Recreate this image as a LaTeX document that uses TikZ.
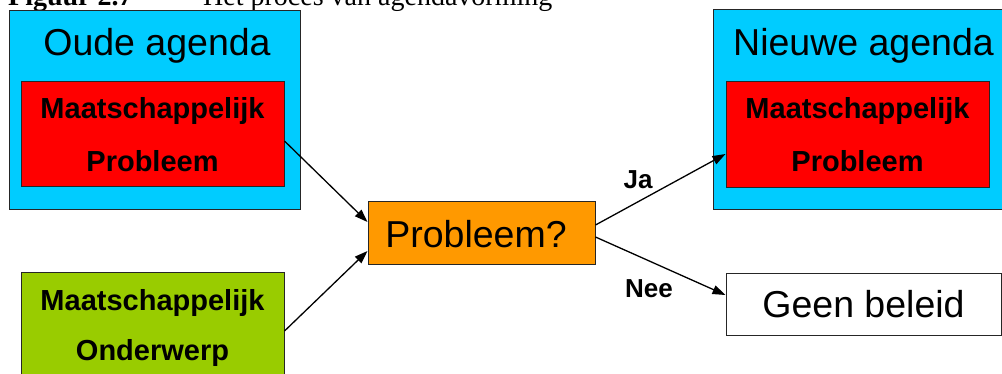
\documentclass[tikz,border=0pt]{standalone}
\usepackage{fontspec}
\setmainfont{Liberation Sans}
\newfontfamily\capfont{Liberation Serif}
\usetikzlibrary{arrows.meta}
\definecolor{agcyan}{HTML}{00CCFF}
\definecolor{agred}{HTML}{FF0000}
\definecolor{aggreen}{HTML}{99CC00}
\definecolor{agorange}{HTML}{FF9900}
\tikzset{
  box/.style={draw=black!85, line width=1pt, inner sep=0pt, minimum width=#1},
  bigtxt/.style={anchor=base, inner sep=0pt, font=\fontsize{37.5}{44}\selectfont},
  boldtxt/.style={anchor=base, inner sep=0pt, font=\bfseries\fontsize{29}{34}\selectfont},
  lbltxt/.style={anchor=base, inner sep=0pt, font=\bfseries\fontsize{26}{30}\selectfont},
  captxt/.style={anchor=base west, inner sep=0pt, font=\capfont\fontsize{28}{30}\selectfont},
  conn/.style={line width=1.3pt, -{Triangle[length=13pt,width=9pt]}}
}
\begin{document}
\begin{tikzpicture}[x=1pt,y=-1pt]
\useasboundingbox (0,0) rectangle (1002,373);
\clip (0,0) rectangle (1002,373);
\fill[white] (0,0) rectangle (1002,373);
% caption (cut off at top)
\node[captxt, font=\capfont\bfseries\fontsize{28}{30}\selectfont] (capA) at (8,5) {Figuur 2.7};
\node[captxt] (capB) at (203,5) {Het proces van agendavorming};
% boxes
\node[box=291pt, minimum height=199pt, fill=agcyan] (oude) at (154.5,109.5) {};
\node[box=263pt, minimum height=105pt, fill=agred] (redL) at (152.5,134) {};
\node[box=263pt, minimum height=123pt, fill=aggreen] (green) at (152.5,333.5) {};
\node[box=227pt, minimum height=63pt, fill=agorange] (prob) at (481.5,232.5) {};
\node[box=299pt, minimum height=200pt, fill=agcyan] (nieuw) at (862.5,109) {};
\node[box=263pt, minimum height=106pt, fill=agred] (redR) at (857.5,134) {};
\node[box=275pt, minimum height=62pt, fill=white] (geen) at (863.5,304) {};
% texts
\node[bigtxt] (tOude) at (157,55) {Oude agenda};
\node[boldtxt] (tL1) at (152.5,118) {Maatschappelijk};
\node[boldtxt] (tL2) at (152.5,171) {Probleem};
\node[boldtxt] (tG1) at (152.5,310) {Maatschappelijk};
\node[boldtxt] (tG2) at (152.5,360) {Onderwerp};
\node[bigtxt] (tProb) at (476,247) {Probleem?};
\node[bigtxt] (tNieuw) at (863.5,55) {Nieuwe agenda};
\node[boldtxt] (tR1) at (857.5,118) {Maatschappelijk};
\node[boldtxt] (tR2) at (857.5,171) {Probleem};
\node[bigtxt] (tGeen) at (863.5,317) {Geen beleid};
\node[lbltxt] (ja) at (638,188) {Ja};
\node[lbltxt] (nee) at (649,297) {Nee};
% connectors
\draw[conn] ([yshift=-7pt]redL.east) -- ([yshift=10.5pt]prob.west);
\draw[conn] ([yshift=2.5pt]green.east) -- ([yshift=-18.5pt]prob.west);
\draw[conn] ([yshift=7.5pt]prob.east) -- ([yshift=-20pt]redR.west);
\draw[conn] ([yshift=-4.5pt]prob.east) -- ([yshift=9pt]geen.west);
\end{tikzpicture}
\end{document}
